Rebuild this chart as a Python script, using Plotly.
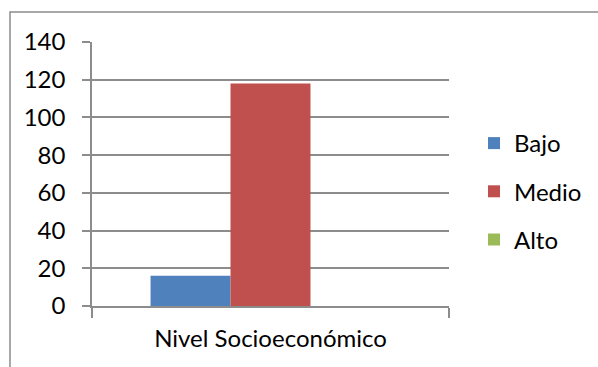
import plotly.graph_objects as go

categories = ["Nivel Socioeconómico"]
series_names = ["Bajo", "Medio", "Alto"]
series_values = [[16], [118], [0]]
series_colors = ["#4F81BD", "#C0504D", "#9BBB59"]
y_ticks = [0, 20, 40, 60, 80, 100, 120, 140]

FONT = "Lato"
FS = 24
fig = go.Figure()
for i, (name, vals, col) in enumerate(zip(series_names, series_values, series_colors)):
    fig.add_trace(go.Bar(
        x=categories, y=vals, name=name, marker=dict(color=col, line=dict(width=0)),
        legendgroup=name, hoverinfo="skip",
    ))

grid = "#8C8C8C"
L, R, T, B = 92, 449, 42, 306
W, H = 598, 367
fig.update_layout(
    width=W, height=H,
    margin=dict(l=L, r=W - R, t=T, b=H - B, pad=0, autoexpand=False),
    paper_bgcolor="white", plot_bgcolor="white",
    barmode="group", bargap=0.328, bargroupgap=0,
    font=dict(family=FONT, size=FS, color="#000000"),
    showlegend=True,
    legend=dict(xref="container", yref="container", x=474 / W, y=1 - 121 / H,
                xanchor="left", yanchor="top",
                tracegroupgap=14, font=dict(size=FS), bgcolor="rgba(0,0,0,0)",
                borderwidth=0),
    xaxis=dict(showline=True, linecolor=grid, linewidth=1.5, ticks="outside",
               tickson="boundaries", ticklen=10, tickcolor=grid, tickwidth=1.5,
               showgrid=False, tickfont=dict(size=FS), fixedrange=True,
               ticklabelstandoff=10, automargin=False),
    yaxis=dict(range=[0, 140], tickvals=y_ticks, showline=True, linecolor=grid,
               linewidth=1.5, ticks="outside", ticklen=8, tickcolor=grid, tickwidth=1.5,
               showgrid=True, gridcolor=grid, gridwidth=1.5, zeroline=False,
               tickfont=dict(size=FS), fixedrange=True, ticklabelstandoff=12,
               automargin=False),
    shapes=[dict(type="rect", xref="paper", yref="paper",
                 x0=(10 - L) / (R - L), x1=(605 - L) / (R - L),
                 y0=(B - 375) / (B - T), y1=(B - 12) / (B - T),
                 line=dict(color="#8C8C8C", width=1.5), fillcolor="rgba(0,0,0,0)", layer="below")],
)
fig.write_html("out.html", config={"displayModeBar": False})
